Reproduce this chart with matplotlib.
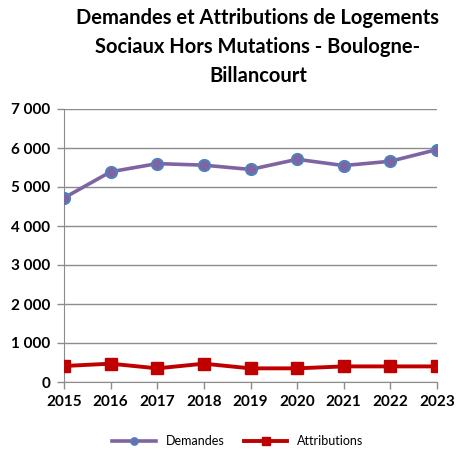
import matplotlib
matplotlib.use("Agg")
import matplotlib.pyplot as plt
from matplotlib.ticker import FuncFormatter

years = [2015, 2016, 2017, 2018, 2019, 2020, 2021, 2022, 2023]
demandes = [4720, 5390, 5600, 5560, 5450, 5710, 5550, 5660, 5960]
attributions = [410, 470, 350, 470, 350, 350, 400, 400, 400]
title = "Demandes et Attributions de Logements\nSociaux Hors Mutations - Boulogne-\nBillancourt"

plt.rcParams['font.family'] = ['Lato', 'DejaVu Sans']

fig = plt.figure(figsize=(4.58, 4.5), dpi=100)
ax = fig.add_axes([64/458, 1-382/450, (437-64)/458, (382-109)/450])

ax.plot(years, demandes, color='#8064A2', lw=2.6, marker='o', ms=8,
        markerfacecolor='#8064A2', markeredgecolor='#4F81BD', markeredgewidth=1.5,
        label='Demandes', zorder=3)
ax.plot(years, attributions, color='#C00000', lw=2.8, marker='s', ms=9,
        markerfacecolor='#C00000', markeredgecolor='#C00000',
        label='Attributions', zorder=3)

ax.set_xlim(2015, 2023)
ax.set_ylim(0, 7000)
ax.set_yticks(range(0, 7001, 1000))
ax.set_xticks(years)
ax.yaxis.set_major_formatter(FuncFormatter(lambda v, p: f"{int(v):,}".replace(",", " ")))
ax.grid(axis='y', color='#8c8c8c', lw=1)
ax.set_axisbelow(True)
for s in ['top', 'right']:
    ax.spines[s].set_visible(False)
for s in ['left', 'bottom']:
    ax.spines[s].set_color('#8c8c8c')
ax.tick_params(axis='both', color='#8c8c8c', length=5, width=1, labelsize=11)
for lab in ax.get_xticklabels() + ax.get_yticklabels():
    lab.set_fontweight('bold')
ax.tick_params(axis='y', pad=5)
ax.tick_params(axis='x', pad=4)

fig.text(258/458, 1-8/450, title, ha='center', va='top', fontsize=14.5,
         fontweight='bold', linespacing=1.55)

fig.legend(loc='center', bbox_to_anchor=(238/458, 1-441/450), ncol=2, frameon=False,
           fontsize=9, handlelength=3.5, columnspacing=1.5, markerscale=0.6)

fig.savefig('out.png', dpi=100)
